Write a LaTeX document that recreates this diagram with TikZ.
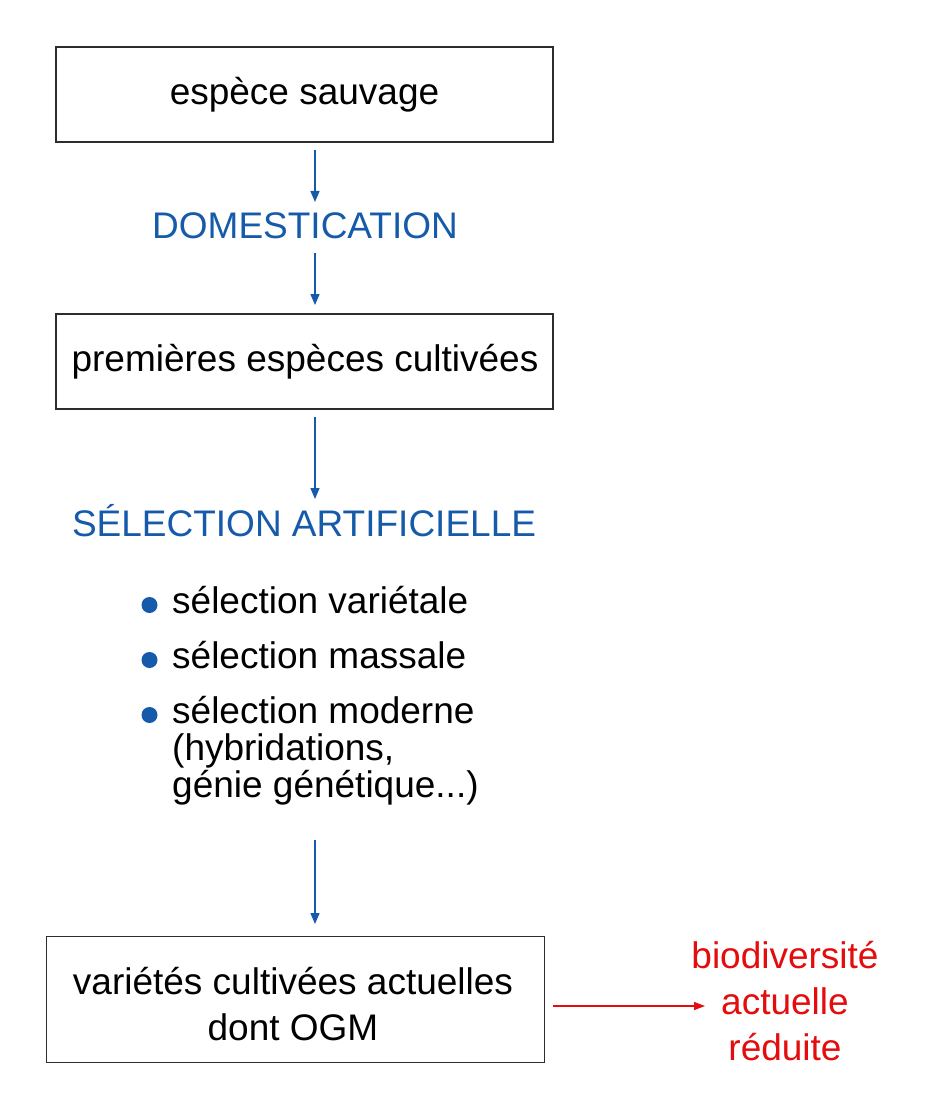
\documentclass[tikz,border=0pt]{standalone}
\usepackage{fontspec}
\setmainfont{Liberation Sans}
\usetikzlibrary{arrows.meta}
\definecolor{bleu}{RGB}{22,90,170}
\definecolor{rouge}{RGB}{228,12,12}
\definecolor{cadre}{RGB}{45,45,45}
\tikzset{
  boxnode/.style={draw=cadre, line width=1.3pt, inner sep=0pt},
  txt/.style={font=\fontsize{37}{46}\selectfont, inner sep=0pt},
  flow/.style={draw=bleu, line width=1.4pt, -{Triangle[length=11pt,width=9pt]}},
  redflow/.style={draw=rouge, line width=1.2pt, -{Triangle[length=11pt,width=8pt]}},
  puce/.style={circle, fill=bleu, minimum size=16pt, inner sep=0pt}
}
\begin{document}
\begin{tikzpicture}[x=1pt,y=-1pt]
\useasboundingbox[fill=white] (0,0) rectangle (924,1110);
% boxes
\node[boxnode, minimum width=497pt, minimum height=95pt] (b1) at (304.5,94.5) {};
\node[boxnode, minimum width=497pt, minimum height=95pt] (b2) at (304.5,361.5) {};
\node[boxnode, minimum width=498pt, minimum height=126pt] (b3) at (295.5,999.5) {};
% texts
\node[txt, anchor=base] (t1) at (304.5,105) {espèce sauvage};
\node[txt, anchor=base] (t2) at (305,371) {premières espèces cultivées};
\node[txt, anchor=base, align=center] (t3) at (293,1040) {variétés cultivées actuelles\\dont OGM};
\node[txt, anchor=base, text=bleu] (dom) at (305,238) {DOMESTICATION};
\node[txt, anchor=base, text=bleu] (sel) at (304,536) {SÉLECTION ARTIFICIELLE};
\node[txt, anchor=base, text=rouge, align=center] (bio) at (785,1060) {biodiversité\\actuelle\\réduite};
% bullet list
\node[puce] (u1) at (149.5,605) {};
\node[puce] (u2) at (149.5,660) {};
\node[puce] (u3) at (149.5,715) {};
\node[txt, anchor=base west] (s1) at (172,613) {sélection variétale};
\node[txt, anchor=base west] (s2) at (172,668) {sélection massale};
\node[txt, anchor=base west, align=left, font=\fontsize{37}{37}\selectfont] (s3) at (172,797) {sélection moderne\\(hybridations,\\génie génétique...)};
% arrow end points
\coordinate (p1) at (315,150);
\coordinate (p2) at (315,202);
\coordinate (p3) at (315,253);
\coordinate (p4) at (315,305);
\coordinate (p5) at (315,417);
\coordinate (p6) at (315,499);
\coordinate (p7) at (315,840);
\coordinate (p8) at (315,924);
\coordinate (r1) at (553,1006);
\coordinate (r2) at (705,1006);
\draw[flow] (p1) -- (p2);
\draw[flow] (p3) -- (p4);
\draw[flow] (p5) -- (p6);
\draw[flow] (p7) -- (p8);
\draw[redflow] (r1) -- (r2);
\end{tikzpicture}
\end{document}
